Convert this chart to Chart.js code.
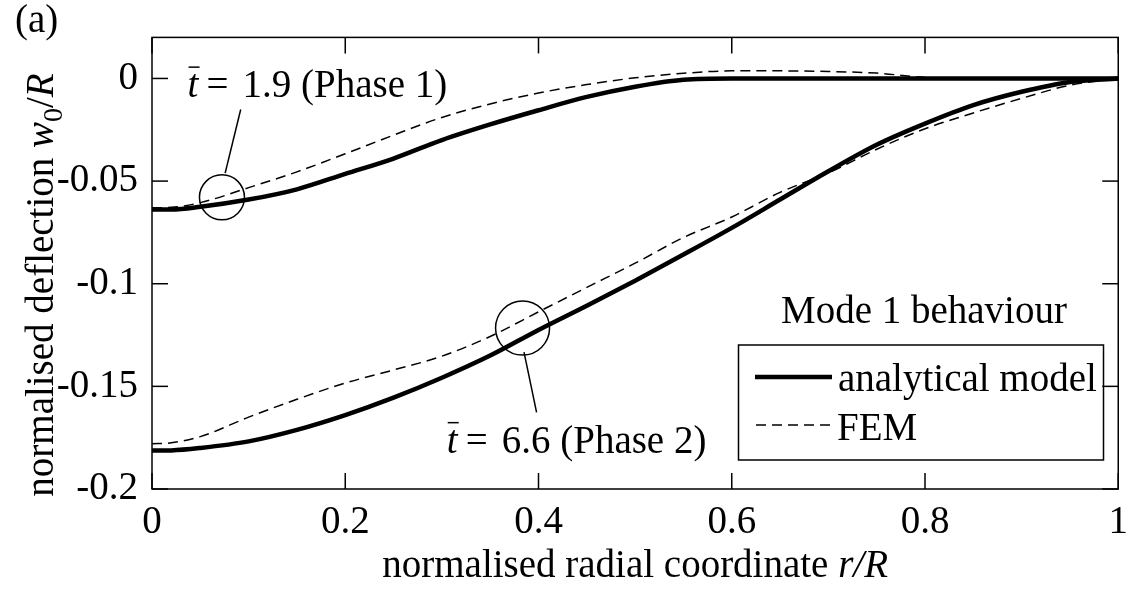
<!DOCTYPE html>
<html>
<head>
<meta charset="utf-8">
<script src="https://cdn.jsdelivr.net/npm/chart.js@4.4.0/dist/chart.umd.min.js"></script>
<style>
  html, body { margin: 0; padding: 0; background: #fff; }
  #wrap { width: 1138px; height: 590px; }
</style>
</head>
<body>
<div id="wrap"><canvas id="deflectionChart" width="1138" height="590"></canvas></div>
<script>
// normalised radial coordinate r/R
const radialCoord = [0, 0.02, 0.05, 0.1, 0.15, 0.2, 0.25, 0.3, 0.35, 0.4, 0.45, 0.5, 0.55, 0.6, 0.65, 0.7, 0.75, 0.8, 0.85, 0.9, 0.95, 1];

// t = 1.9 (Phase 1)
const phase1Model = [-0.0638, -0.0638, -0.0625, -0.0590, -0.0540, -0.0465, -0.0390, -0.0300, -0.0224, -0.0155, -0.0090, -0.0040, -0.0006, 0, 0, 0, 0, 0, 0, 0, 0, 0];
const phase1Fem = [-0.0630, -0.0628, -0.0605, -0.0532, -0.0455, -0.0367, -0.0276, -0.0190, -0.0124, -0.0071, -0.0030, 0.0003, 0.0025, 0.0037, 0.0037, 0.0034, 0.0026, 0.0005, 0, 0, 0, 0];

// t = 6.6 (Phase 2)
const phase2Model = [-0.1813, -0.1812, -0.1800, -0.1768, -0.1712, -0.1640, -0.1555, -0.1458, -0.1350, -0.1225, -0.1107, -0.0985, -0.0858, -0.0728, -0.0590, -0.0452, -0.0323, -0.0220, -0.0130, -0.0065, -0.0017, 0];
const phase2Fem = [-0.1780, -0.1775, -0.1745, -0.1650, -0.1563, -0.1484, -0.1420, -0.1353, -0.1257, -0.1137, -0.1018, -0.0900, -0.0775, -0.0675, -0.0555, -0.0460, -0.0345, -0.0245, -0.0168, -0.0097, -0.0033, 0];

const xTicks = [0, 0.2, 0.4, 0.6, 0.8, 1];
const xTickLabels = ['0', '0.2', '0.4', '0.6', '0.8', '1'];
const yTicks = [-0.2, -0.15, -0.1, -0.05, 0];
const yTickLabels = ['-0.2', '-0.15', '-0.1', '-0.05', '0'];

const FONT = 'Liberation Serif';
const FS = 39;

const toPoints = arr => radialCoord.map((r, i) => ({ x: r, y: arr[i] }));

function solid(data) {
    return { data: toPoints(data), borderColor: '#000', borderWidth: 4.5, showLine: true, pointRadius: 0, cubicInterpolationMode: 'monotone' };
}
function dashed(data) {
    return { data: toPoints(data), borderColor: '#000', borderWidth: 1.5, borderDash: [10, 6], showLine: true, pointRadius: 0, cubicInterpolationMode: 'monotone' };
}

function line(ctx, x1, y1, x2, y2) {
    ctx.beginPath();
    ctx.moveTo(x1, y1);
    ctx.lineTo(x2, y2);
    ctx.stroke();
}

// "t-bar = value (Phase n)" label, left edge at px, baseline at py
function tLabel(ctx, px, py, rest) {
    ctx.font = 'italic ' + FS + 'px ' + FONT;
    ctx.fillText('t', px, py);
    line(ctx, px + 1, py - 30, px + 12, py - 30);
    ctx.font = FS + 'px ' + FONT;
    ctx.fillText('=', px + 19, py);
    ctx.fillText(rest, px + 55, py);
}

const overlay = {
    id: 'overlay',
    afterDraw(chart) {
        const { ctx, chartArea: a, scales: { x, y } } = chart;
        ctx.save();
        ctx.strokeStyle = '#000';
        ctx.fillStyle = '#000';
        ctx.lineWidth = 1.5;
        ctx.setLineDash([]);

        // axes box + inward ticks on every side
        ctx.strokeRect(a.left, a.top, a.right - a.left, a.bottom - a.top);
        xTicks.forEach(v => {
            const px = x.getPixelForValue(v);
            line(ctx, px, a.bottom, px, a.bottom - 16);
            line(ctx, px, a.top, px, a.top + 16);
        });
        yTicks.forEach(v => {
            const py = y.getPixelForValue(v);
            line(ctx, a.left, py, a.left + 16, py);
            line(ctx, a.right, py, a.right - 16, py);
        });

        // phase markers
        ctx.beginPath();
        ctx.arc(x.getPixelForValue(0.0724), y.getPixelForValue(-0.0579), 22.5, 0, Math.PI * 2);
        ctx.stroke();
        line(ctx, x.getPixelForValue(0.0757), y.getPixelForValue(-0.0461), x.getPixelForValue(0.0918), y.getPixelForValue(-0.0151));
        ctx.beginPath();
        ctx.arc(x.getPixelForValue(0.3835), y.getPixelForValue(-0.1216), 27, 0, Math.PI * 2);
        ctx.stroke();
        line(ctx, x.getPixelForValue(0.385), y.getPixelForValue(-0.1333), x.getPixelForValue(0.398), y.getPixelForValue(-0.1627));

        ctx.textBaseline = 'alphabetic';
        ctx.textAlign = 'left';
        tLabel(ctx, x.getPixelForValue(0.0368), y.getPixelForValue(-0.0091), '1.9 (Phase 1)');
        tLabel(ctx, x.getPixelForValue(0.305), y.getPixelForValue(-0.1823), '6.6 (Phase 2)');

        // legend
        ctx.font = FS + 'px ' + FONT;
        ctx.fillText('Mode 1 behaviour', 781, 323);
        ctx.strokeRect(738.5, 345, 365, 115);
        ctx.lineWidth = 4.5;
        line(ctx, 755, 377, 832, 377);
        ctx.lineWidth = 1.5;
        ctx.setLineDash([10, 6]);
        line(ctx, 756, 425, 836, 425);
        ctx.setLineDash([]);
        ctx.fillText('analytical model', 838, 391);
        ctx.fillText('FEM', 837, 440);

        // panel tag
        ctx.fillText('(a)', 15, 32);

        // x title
        const xa = 'normalised radial coordinate ';
        const xb = 'r/R';
        ctx.font = FS + 'px ' + FONT;
        const wa = ctx.measureText(xa).width;
        ctx.font = 'italic ' + FS + 'px ' + FONT;
        const wb = ctx.measureText(xb).width;
        let sx = (a.left + a.right) / 2 - (wa + wb) / 2;
        ctx.font = FS + 'px ' + FONT;
        ctx.fillText(xa, sx, 577);
        ctx.font = 'italic ' + FS + 'px ' + FONT;
        ctx.fillText(xb, sx + wa, 577);

        // y title, rotated, with subscript
        ctx.translate(53, 285);
        ctx.rotate(-Math.PI / 2);
        const parts = [
            { t: 'normalised deflection ', f: FS + 'px ' + FONT, dy: 0 },
            { t: 'w', f: 'italic ' + FS + 'px ' + FONT, dy: 0 },
            { t: '0', f: Math.round(FS * 0.72) + 'px ' + FONT, dy: 9 },
            { t: '/', f: FS + 'px ' + FONT, dy: 0 },
            { t: 'R', f: 'italic ' + FS + 'px ' + FONT, dy: 0 }
        ];
        let total = 0;
        parts.forEach(p => { ctx.font = p.f; p.w = ctx.measureText(p.t).width; total += p.w; });
        let cx = -total / 2;
        parts.forEach(p => { ctx.font = p.f; ctx.fillText(p.t, cx, p.dy); cx += p.w; });
        ctx.restore();
    }
};

const deflectionChart = new Chart(document.getElementById('deflectionChart'), {
    type: 'scatter',
    data: {
        datasets: [
            { label: 'analytical model', ...solid(phase1Model) },
            { label: 'FEM', ...dashed(phase1Fem) },
            { label: 'analytical model', ...solid(phase2Model) },
            { label: 'FEM', ...dashed(phase2Fem) }
        ]
    },
    options: {
        responsive: false,
        animation: false,
        layout: { padding: { top: 35, right: 9, left: 0, bottom: 0 } },
        plugins: { legend: { display: false }, tooltip: { enabled: false } },
        scales: {
            x: {
                type: 'linear',
                min: 0,
                max: 1,
                afterBuildTicks: s => { s.ticks = xTicks.map(v => ({ value: v })); },
                afterFit: s => { s.height = 101; },
                grid: { display: false, drawTicks: false },
                border: { display: false },
                ticks: {
                    color: '#000',
                    padding: 10,
                    maxRotation: 0,
                    font: { family: FONT, size: FS, lineHeight: 1.2 },
                    callback: v => xTickLabels[xTicks.indexOf(v)]
                }
            },
            y: {
                type: 'linear',
                min: -0.2,
                max: 0.02,
                afterBuildTicks: s => { s.ticks = yTicks.map(v => ({ value: v })); },
                afterFit: s => { s.width = 152; },
                grid: { display: false, drawTicks: false },
                border: { display: false },
                ticks: {
                    color: '#000',
                    padding: 14,
                    font: { family: FONT, size: FS, lineHeight: 1.2 },
                    callback: v => yTickLabels[yTicks.indexOf(v)]
                }
            }
        }
    },
    plugins: [overlay]
});
</script>
</body>
</html>
